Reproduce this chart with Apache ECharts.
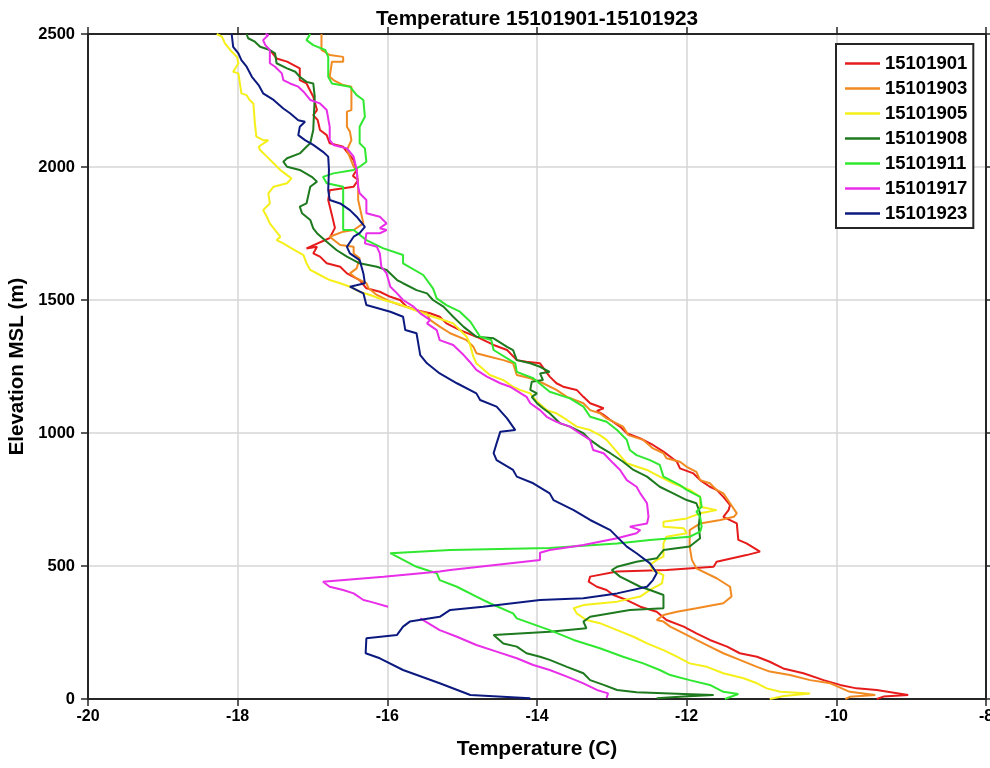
<!DOCTYPE html>
<html>
<head>
<meta charset="utf-8">
<script src="https://cdn.jsdelivr.net/npm/echarts@6/dist/echarts.min.js"></script>
<style>
  html, body { margin: 0; padding: 0; background: #fff; }
  #chart { width: 990px; height: 768px; }
</style>
</head>
<body>
<div id="chart"></div>
<script>
// Temperature soundings: each profile is a list of [temperature (C), elevation MSL (m)]
const seriesNames = ['15101901', '15101903', '15101905', '15101908', '15101911', '15101917', '15101923'];

const xTicks = [-20, -18, -16, -14, -12, -10, -8];
const yTicks = [0, 500, 1000, 1500, 2000, 2500];

const profile01 = [
  [-17.57,2440],[-17.48,2408],[-17.34,2396],[-17.17,2371],[-17.17,2327],[-17.08,2314],[-16.99,2264],[-16.94,2214],
  [-16.99,2195],[-16.93,2176],[-16.90,2139],[-16.81,2120],[-16.77,2089],[-16.59,2076],[-16.54,2057],[-16.45,2026],
  [-16.41,1989],[-16.46,1966],[-16.39,1951],[-16.45,1926],[-16.77,1913],[-16.79,1876],[-16.74,1819],[-16.70,1771],
  [-16.77,1733],[-17.08,1694],[-16.94,1700],[-16.99,1675],[-16.90,1663],[-16.81,1638],[-16.63,1625],[-16.54,1600],
  [-16.37,1575],[-16.28,1544],[-16.10,1531],[-15.96,1512],[-15.83,1500],[-15.74,1475],[-15.61,1462],[-15.43,1450],
  [-15.30,1437],[-15.21,1412],[-15.03,1387],[-14.81,1362],[-14.58,1331],[-14.40,1312],[-14.27,1274],[-14.14,1268],
  [-13.96,1262],[-13.83,1212],[-13.74,1187],[-13.65,1174],[-13.47,1162],[-13.38,1136],[-13.29,1112],[-13.11,1093],
  [-13.20,1083],[-13.11,1068],[-13.02,1049],[-12.89,1024],[-12.80,999],[-12.62,980],[-12.45,955],[-12.31,930],
  [-12.13,892],[-12.09,867],[-11.91,848],[-11.82,823],[-11.69,798],[-11.60,786],[-11.51,760],[-11.42,729],
  [-11.44,710],[-11.51,685],[-11.33,660],[-11.31,598],[-11.20,585],[-11.02,554],[-11.20,541],[-11.60,516],
  [-11.64,497],[-12.27,485],[-12.93,479],[-13.29,460],[-13.31,441],[-13.20,422],[-13.07,410],[-12.98,391],
  [-12.80,372],[-12.62,347],[-12.40,328],[-12.27,297],[-12.04,272],[-11.87,247],[-11.69,222],[-11.46,197],
  [-11.29,172],[-11.06,159],[-10.89,140],[-10.71,115],[-10.44,97],[-10.17,71],[-9.95,53],[-9.73,40],
  [-9.46,34],[-9.04,15],[-9.37,9],[-9.46,0]
];

const profile03 = [
  [-16.88,2500],[-16.88,2440],[-16.77,2421],[-16.59,2414],[-16.59,2396],[-16.74,2396],[-16.77,2339],[-16.72,2327],
  [-16.59,2308],[-16.48,2302],[-16.48,2214],[-16.54,2208],[-16.54,2151],[-16.50,2133],[-16.48,2101],[-16.54,2064],
  [-16.45,2001],[-16.41,1989],[-16.39,1932],[-16.39,1876],[-16.32,1788],[-16.45,1763],[-16.59,1757],[-16.77,1738],
  [-16.63,1707],[-16.45,1700],[-16.45,1675],[-16.37,1657],[-16.41,1619],[-16.50,1600],[-16.41,1581],[-16.28,1563],
  [-16.25,1544],[-16.14,1519],[-15.96,1494],[-15.83,1481],[-15.61,1462],[-15.47,1450],[-15.43,1425],[-15.30,1400],
  [-15.16,1375],[-14.94,1349],[-14.85,1324],[-14.81,1300],[-14.63,1287],[-14.45,1274],[-14.32,1262],[-14.27,1218],
  [-14.09,1206],[-13.92,1187],[-13.74,1162],[-13.60,1136],[-13.38,1112],[-13.29,1086],[-13.16,1074],[-13.07,1055],
  [-12.85,1024],[-12.78,992],[-12.58,974],[-12.45,942],[-12.31,924],[-12.27,905],[-12.09,892],[-12.00,873],
  [-11.87,854],[-11.82,823],[-11.69,811],[-11.60,786],[-11.51,773],[-11.42,736],[-11.33,698],[-11.37,685],
  [-11.55,673],[-11.82,660],[-11.96,635],[-11.96,573],[-11.93,523],[-11.87,491],[-11.60,454],[-11.42,422],
  [-11.40,385],[-11.51,360],[-11.87,341],[-12.13,328],[-12.31,316],[-12.40,297],[-12.31,291],[-12.22,272],
  [-12.04,247],[-11.87,222],[-11.69,197],[-11.51,172],[-11.29,147],[-11.06,121],[-10.89,103],[-10.62,90],
  [-10.35,71],[-10.08,59],[-9.82,27],[-9.48,15],[-9.82,8],[-9.88,0]
];

const profile05 = [
  [-18.28,2500],[-18.21,2490],[-18.17,2465],[-18.10,2440],[-18.01,2414],[-17.99,2390],[-18.06,2358],[-17.99,2352],
  [-17.97,2314],[-17.95,2277],[-17.88,2270],[-17.84,2252],[-17.79,2239],[-17.77,2164],[-17.75,2114],[-17.66,2101],
  [-17.59,2101],[-17.72,2076],[-17.70,2064],[-17.61,2039],[-17.52,2014],[-17.43,1989],[-17.37,1976],[-17.28,1957],
  [-17.34,1939],[-17.52,1926],[-17.59,1901],[-17.57,1863],[-17.66,1838],[-17.61,1813],[-17.57,1788],[-17.50,1763],
  [-17.43,1738],[-17.48,1725],[-17.39,1713],[-17.28,1694],[-17.12,1669],[-17.08,1638],[-17.03,1613],[-16.90,1594],
  [-16.77,1575],[-16.63,1563],[-16.50,1550],[-16.37,1531],[-16.23,1519],[-16.05,1500],[-15.87,1487],[-15.70,1469],
  [-15.52,1450],[-15.39,1437],[-15.25,1425],[-15.12,1412],[-15.03,1387],[-14.94,1362],[-14.90,1337],[-14.85,1287],
  [-14.81,1262],[-14.63,1218],[-14.45,1199],[-14.32,1174],[-14.23,1162],[-14.09,1149],[-14.00,1118],[-13.87,1086],
  [-13.74,1074],[-13.60,1049],[-13.47,1024],[-13.29,1011],[-13.16,992],[-13.07,974],[-12.80,886],[-12.53,861],
  [-12.36,836],[-12.18,811],[-11.96,786],[-11.82,760],[-11.82,723],[-11.60,710],[-11.82,698],[-12.00,679],
  [-12.31,666],[-12.31,648],[-12.04,642],[-12.00,623],[-12.27,610],[-12.31,585],[-12.31,535],[-12.40,523],
  [-12.49,504],[-12.45,485],[-12.31,466],[-12.33,435],[-12.49,410],[-12.62,385],[-12.93,366],[-13.38,353],
  [-13.51,341],[-13.47,322],[-13.34,297],[-13.16,285],[-12.93,259],[-12.71,234],[-12.53,209],[-12.31,184],
  [-12.13,159],[-11.96,134],[-11.73,121],[-11.51,97],[-11.24,78],[-11.06,59],[-10.93,40],[-10.75,27],
  [-10.35,21],[-10.70,11],[-10.89,0]
];

const profile08 = [
  [-17.88,2500],[-17.86,2484],[-17.77,2471],[-17.70,2452],[-17.57,2440],[-17.50,2427],[-17.48,2390],[-17.34,2371],
  [-17.23,2358],[-17.17,2339],[-17.08,2320],[-16.99,2314],[-16.97,2264],[-16.99,2139],[-17.03,2089],[-17.08,2076],
  [-17.17,2051],[-17.34,2033],[-17.39,2020],[-17.34,2001],[-17.17,1989],[-17.01,1963],[-16.94,1945],[-17.03,1926],
  [-17.06,1888],[-17.08,1863],[-17.17,1851],[-17.14,1826],[-17.03,1801],[-16.99,1769],[-16.94,1751],[-16.81,1719],
  [-16.68,1688],[-16.54,1663],[-16.37,1638],[-16.14,1625],[-16.01,1613],[-15.87,1575],[-15.79,1563],[-15.61,1537],
  [-15.47,1525],[-15.39,1500],[-15.25,1475],[-15.12,1437],[-14.98,1399],[-14.81,1362],[-14.58,1356],[-14.40,1324],
  [-14.32,1312],[-14.27,1274],[-14.09,1262],[-13.96,1249],[-13.83,1230],[-13.96,1224],[-13.92,1199],[-14.07,1193],
  [-14.09,1162],[-14.00,1149],[-14.07,1136],[-14.00,1112],[-13.92,1093],[-13.83,1074],[-13.69,1036],[-13.56,1024],
  [-13.38,999],[-13.29,974],[-13.16,948],[-13.02,924],[-12.85,892],[-12.71,861],[-12.53,836],[-12.36,798],
  [-12.18,773],[-12.00,748],[-11.87,736],[-11.82,698],[-11.84,648],[-11.82,604],[-11.96,573],[-12.31,560],
  [-12.40,529],[-12.67,516],[-12.93,497],[-13.00,485],[-12.89,460],[-12.62,422],[-12.49,410],[-12.31,391],
  [-12.31,341],[-12.76,335],[-13.29,309],[-13.38,291],[-13.34,266],[-13.83,253],[-14.58,241],[-14.45,209],
  [-14.27,197],[-14.14,172],[-13.96,159],[-13.83,147],[-13.60,121],[-13.38,97],[-13.29,71],[-13.11,53],
  [-12.93,34],[-12.67,25],[-12.04,19],[-11.64,15],[-12.04,9],[-12.40,3]
];

const profile11 = [
  [-17.03,2500],[-17.08,2477],[-16.99,2458],[-16.83,2440],[-16.79,2414],[-16.79,2339],[-16.74,2314],[-16.50,2302],
  [-16.41,2270],[-16.32,2252],[-16.30,2189],[-16.37,2151],[-16.37,2089],[-16.30,2070],[-16.28,2020],[-16.37,2001],
  [-16.45,1989],[-16.72,1976],[-16.86,1963],[-16.81,1939],[-16.59,1926],[-16.59,1763],[-16.45,1763],[-16.28,1725],
  [-16.06,1695],[-15.79,1669],[-15.79,1638],[-15.52,1594],[-15.39,1544],[-15.34,1506],[-15.21,1481],[-15.03,1456],
  [-14.89,1418],[-14.76,1362],[-14.61,1349],[-14.58,1312],[-14.29,1262],[-14.27,1230],[-14.05,1206],[-13.83,1155],
  [-13.56,1130],[-13.38,1099],[-13.29,1061],[-13.07,1042],[-12.93,1011],[-12.80,974],[-12.76,936],[-12.67,917],
  [-12.49,898],[-12.36,880],[-12.31,836],[-12.09,804],[-12.00,786],[-11.82,760],[-11.80,723],[-11.87,704],
  [-11.82,685],[-11.80,648],[-11.82,629],[-11.96,610],[-12.49,598],[-12.93,585],[-13.83,568],[-15.16,560],
  [-15.96,548],[-15.87,535],[-15.61,497],[-15.34,473],[-15.30,447],[-15.07,422],[-14.81,385],[-14.63,360],
  [-14.32,322],[-14.27,303],[-13.83,259],[-13.51,222],[-13.16,191],[-12.85,159],[-12.58,134],[-12.36,109],
  [-12.22,90],[-11.96,71],[-11.69,53],[-11.51,27],[-11.31,19],[-11.49,0]
];

// the 15101917 sounding has a short gap near 330 m
const profile17 = [
  [-17.63,2500],[-17.59,2496],[-17.66,2477],[-17.63,2458],[-17.57,2440],[-17.57,2390],[-17.50,2377],[-17.41,2352],
  [-17.39,2327],[-17.30,2314],[-17.19,2302],[-17.12,2283],[-17.03,2252],[-16.90,2239],[-16.81,2214],[-16.77,2151],
  [-16.77,2101],[-16.72,2083],[-16.63,2076],[-16.54,2070],[-16.45,2039],[-16.43,2014],[-16.41,1989],[-16.39,1926],
  [-16.37,1901],[-16.28,1876],[-16.28,1826],[-16.10,1813],[-16.01,1788],[-16.10,1770],[-16.01,1763],[-16.10,1751],
  [-16.28,1751],[-16.30,1713],[-16.14,1700],[-16.10,1675],[-16.08,1625],[-16.01,1600],[-15.96,1550],[-15.87,1525],
  [-15.79,1500],[-15.65,1475],[-15.56,1450],[-15.43,1425],[-15.47,1412],[-15.34,1387],[-15.30,1349],[-15.12,1331],
  [-14.98,1293],[-14.90,1268],[-14.81,1237],[-14.67,1212],[-14.49,1187],[-14.36,1174],[-14.14,1136],[-14.09,1112],
  [-13.96,1086],[-13.87,1061],[-13.74,1042],[-13.56,1024],[-13.43,999],[-13.29,974],[-13.25,936],[-13.11,924],
  [-12.98,886],[-12.89,861],[-12.80,823],[-12.67,798],[-12.62,773],[-12.53,736],[-12.51,685],[-12.53,660],
  [-12.76,648],[-12.62,635],[-12.67,623],[-12.93,604],[-13.38,579],[-13.83,560],[-13.96,550],[-13.96,523],
  [-15.16,485],[-15.30,479],[-16.05,460],[-16.86,441],[-16.77,422],[-16.59,410],[-16.45,397],[-16.32,372],
  [-16.23,366],[-15.99,347],
  null,
  [-15.56,303],[-15.30,259],[-15.07,234],[-14.81,203],[-14.54,178],[-14.27,153],[-14.05,128],[-13.83,109],
  [-13.60,84],[-13.38,59],[-13.20,34],[-13.05,21],[-13.07,4]
];

const profile23 = [
  [-18.08,2500],[-18.06,2452],[-17.99,2427],[-17.95,2402],[-17.88,2377],[-17.81,2339],[-17.72,2308],[-17.66,2277],
  [-17.52,2252],[-17.39,2220],[-17.30,2202],[-17.19,2176],[-17.10,2170],[-17.17,2151],[-17.19,2120],[-17.10,2101],
  [-16.99,2083],[-16.86,2057],[-16.79,2039],[-16.78,1989],[-16.79,1913],[-16.77,1876],[-16.63,1863],[-16.50,1838],
  [-16.41,1813],[-16.30,1775],[-16.37,1751],[-16.45,1738],[-16.54,1700],[-16.50,1675],[-16.37,1650],[-16.32,1600],
  [-16.30,1563],[-16.50,1550],[-16.32,1525],[-16.28,1481],[-15.96,1456],[-15.79,1437],[-15.76,1387],[-15.61,1375],
  [-15.56,1293],[-15.47,1262],[-15.30,1224],[-15.07,1187],[-14.81,1149],[-14.76,1124],[-14.54,1099],[-14.40,1055],
  [-14.29,1011],[-14.49,1005],[-14.54,961],[-14.58,924],[-14.54,898],[-14.32,861],[-14.27,836],[-14.05,811],
  [-13.83,773],[-13.78,748],[-13.51,710],[-13.29,673],[-13.02,635],[-12.80,573],[-12.67,548],[-12.49,510],
  [-12.40,473],[-12.45,447],[-12.53,422],[-12.93,397],[-13.38,379],[-13.96,372],[-14.72,347],[-15.16,335],
  [-15.30,309],[-15.70,291],[-15.79,272],[-15.87,241],[-16.28,228],[-16.29,172],[-16.10,153],[-15.79,109],
  [-15.30,59],[-14.89,15],[-14.09,3]
];

const profiles = [profile01, profile03, profile05, profile08, profile11, profile17, profile23];
const lineColors = ['#e61c1c', '#f28a22', '#f5ef1a', '#1e7a1e', '#30e830', '#e82ee8', '#0c1a80'];

const FONT = 'Liberation Sans, Arial, Helvetica, sans-serif';
const AXIS_COLOR = '#262626';

const chart = echarts.init(document.getElementById('chart'), null, { renderer: 'canvas' });

const plainNumber = (v) => String(v);

const frameAxis = (extra) => Object.assign({
  type: 'value',
  axisLine: { show: true, onZero: false, lineStyle: { color: AXIS_COLOR, width: 2 } },
  axisTick: { show: true, inside: false, length: 7, lineStyle: { color: AXIS_COLOR, width: 1.5 } },
  axisLabel: { show: false },
  splitLine: { show: false }
}, extra);

const option = {
  backgroundColor: '#ffffff',
  animation: false,
  title: {
    text: 'Temperature 15101901-15101923',
    left: 532,
    top: 4,
    textAlign: 'center',
    textStyle: { fontFamily: FONT, fontWeight: 'bold', fontSize: 20.8, color: '#000' }
  },
  legend: {
    data: seriesNames,
    orient: 'vertical',
    left: 836,
    top: 44,
    padding: [10, 6, 5, 9],
    icon: 'rect',
    itemWidth: 35,
    itemHeight: 2.5,
    itemGap: 6,
    borderColor: AXIS_COLOR,
    borderWidth: 2,
    borderRadius: 0,
    backgroundColor: '#ffffff',
    textStyle: { fontFamily: FONT, fontWeight: 'bold', fontSize: 18.5, color: '#000', padding: [0, 0, 0, 0] }
  },
  grid: { left: 88, right: 4, top: 34, bottom: 69, containLabel: false, outerBoundsMode: 'none' },
  xAxis: [
    {
      type: 'value',
      min: xTicks[0],
      max: xTicks[xTicks.length - 1],
      interval: 2,
      position: 'bottom',
      name: 'Temperature (C)',
      nameLocation: 'middle',
      nameGap: 40,
      nameTextStyle: { fontFamily: FONT, fontWeight: 'bold', fontSize: 21, color: '#000' },
      axisLine: { show: true, onZero: false, lineStyle: { color: AXIS_COLOR, width: 2 } },
      axisTick: { show: true, inside: false, length: 7, lineStyle: { color: AXIS_COLOR, width: 1.5 } },
      axisLabel: { fontFamily: FONT, fontWeight: 'bold', fontSize: 16, color: '#000', margin: 10, formatter: plainNumber },
      splitLine: { show: true, lineStyle: { color: '#d6d6d6', width: 1.5 } }
    },
    frameAxis({ min: xTicks[0], max: xTicks[xTicks.length - 1], interval: 2, position: 'top' })
  ],
  yAxis: [
    {
      type: 'value',
      min: yTicks[0],
      max: yTicks[yTicks.length - 1],
      interval: 500,
      position: 'left',
      name: 'Elevation MSL (m)',
      nameLocation: 'middle',
      nameGap: 58,
      nameTextStyle: { fontFamily: FONT, fontWeight: 'bold', fontSize: 20.5, color: '#000' },
      axisLine: { show: true, onZero: false, lineStyle: { color: AXIS_COLOR, width: 2 } },
      axisTick: { show: true, inside: false, length: 7, lineStyle: { color: AXIS_COLOR, width: 1.5 } },
      axisLabel: { fontFamily: FONT, fontWeight: 'bold', fontSize: 16.5, color: '#000', margin: 13, formatter: plainNumber },
      splitLine: { show: true, lineStyle: { color: '#d6d6d6', width: 1.5 } }
    },
    frameAxis({ min: yTicks[0], max: yTicks[yTicks.length - 1], interval: 500, position: 'right' })
  ],
  series: seriesNames.map((name, i) => ({
    name: name,
    type: 'line',
    xAxisIndex: 0,
    yAxisIndex: 0,
    data: profiles[i],
    symbol: 'none',
    showSymbol: false,
    smooth: false,
    connectNulls: false,
    clip: true,
    lineStyle: { color: lineColors[i], width: 2 },
    itemStyle: { color: lineColors[i] },
    emphasis: { disabled: true }
  }))
};

chart.setOption(option);
</script>
</body>
</html>
